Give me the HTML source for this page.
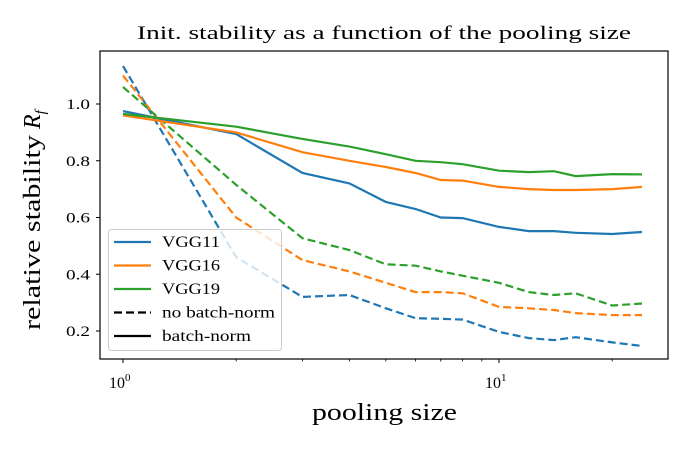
<!DOCTYPE html>
<html><head><meta charset="utf-8"><style>
body{margin:0;background:#fff;}
svg text{font-family:"Liberation Serif",serif;fill:#000;}
</style></head><body>
<svg id="chart" width="690" height="450" xmlns="http://www.w3.org/2000/svg"></svg>
<script>
const poolSizes=[1,2,3,4,5,6,7,8,10,12,14,16,20,24];
const vgg11BN=[0.975,0.894,0.757,0.72,0.655,0.63,0.60,0.598,0.567,0.552,0.552,0.546,0.542,0.549];
const vgg16BN=[0.96,0.90,0.83,0.80,0.778,0.757,0.732,0.73,0.708,0.70,0.697,0.697,0.70,0.708];
const vgg19BN=[0.965,0.92,0.877,0.85,0.823,0.80,0.795,0.788,0.765,0.76,0.763,0.746,0.753,0.752];
const vgg11NoBN=[1.134,0.46,0.32,0.327,0.28,0.245,0.243,0.24,0.197,0.175,0.168,0.178,0.16,0.147];
const vgg16NoBN=[1.10,0.60,0.45,0.41,0.37,0.337,0.337,0.333,0.285,0.28,0.274,0.263,0.256,0.256];
const vgg19NoBN=[1.06,0.715,0.527,0.485,0.435,0.43,0.41,0.395,0.37,0.337,0.327,0.333,0.29,0.297];
const yTicks=[0.2,0.4,0.6,0.8,1.0];
const yTickLabels=["0.2","0.4","0.6","0.8","1.0"];

const NS="http://www.w3.org/2000/svg";
const svg=document.getElementById('chart');
const L=100,R=668,T=51,B=359;
function xs(v){return 123+376*Math.log10(v);}
function ys(v){return 104+(1-v)*283.75;}
function mk(tag,attrs,parent){const e=document.createElementNS(NS,tag);for(const k in attrs)e.setAttribute(k,attrs[k]);(parent||svg).appendChild(e);return e;}

const seriesList=[
 [vgg11NoBN,'#1f77b4',true,'vgg11-no-batchnorm-line'],
 [vgg16NoBN,'#ff7f0e',true,'vgg16-no-batchnorm-line'],
 [vgg19NoBN,'#2ca02c',true,'vgg19-no-batchnorm-line'],
 [vgg11BN,'#1f77b4',false,'vgg11-batchnorm-line'],
 [vgg16BN,'#ff7f0e',false,'vgg16-batchnorm-line'],
 [vgg19BN,'#2ca02c',false,'vgg19-batchnorm-line']];
for(const [vals,col,dash,name] of seriesList){
  const pts=vals.map((v,i)=>xs(poolSizes[i]).toFixed(1)+','+ys(v).toFixed(1)).join(' ');
  const p=mk('polyline',{points:pts,fill:'none',stroke:col,'stroke-width':2.2});
  if(dash)p.setAttribute('stroke-dasharray','8,4');
  
  
}
const fr=mk('rect',{x:L,y:T,width:R-L,height:B-T,fill:'none',stroke:'#000','stroke-width':1.2});


yTicks.forEach((v,i)=>{
  const y=ys(v);
  mk('line',{x1:L-4,x2:L,y1:y,y2:y,stroke:'#000','stroke-width':1});
  const t=mk('text',{x:L-10,y:y+5,'text-anchor':'end','font-size':15,textLength:24,lengthAdjust:'spacingAndGlyphs'});
  t.textContent=yTickLabels[i];
  
  
});
[1,10].forEach(d=>{
  const x=xs(d);
  mk('line',{x1:x,x2:x,y1:B,y2:B+4,stroke:'#000','stroke-width':1});
});
for(let d of [1,10]){for(let m=2;m<=9;m++){const v=d*m;const x=xs(v);if(x<R)mk('line',{x1:x,x2:x,y1:B,y2:B+2.5,stroke:'#000','stroke-width':0.8});}}
const xl1=mk('text',{x:xs(1)-14,y:B+29,'font-size':16});xl1.innerHTML='10<tspan dy="-7" font-size="11">0</tspan>';


const xl2=mk('text',{x:xs(10)-14,y:B+29,'font-size':16});xl2.innerHTML='10<tspan dy="-7" font-size="11">1</tspan>';


const ti=mk('text',{x:137,y:39,'font-size':19,textLength:494,lengthAdjust:'spacingAndGlyphs'});ti.textContent='Init. stability as a function of the pooling size';


const xt=mk('text',{x:312,y:420,'font-size':24,textLength:145,lengthAdjust:'spacingAndGlyphs'});xt.textContent='pooling size';


const yt=mk('text',{x:0,y:0,'font-size':24,transform:'translate(40,330) rotate(-90)'});
yt.innerHTML='<tspan textLength="195" lengthAdjust="spacingAndGlyphs">relative stability</tspan> <tspan font-style="italic">R</tspan><tspan font-style="italic" font-size="15" dy="5">f</tspan>';


const lg=mk('g',{});


mk('rect',{x:108.5,y:229.5,width:173,height:121,rx:3,fill:'#fff','fill-opacity':0.8,stroke:'#ccc','stroke-width':1},lg);
const entries=[['VGG11','#1f77b4',false,58],['VGG16','#ff7f0e',false,58],['VGG19','#2ca02c',false,58],['no batch-norm','#000',true,113],['batch-norm','#000',false,89]];
entries.forEach((e,i)=>{
  const y=242+i*23.5;
  const g=mk('g',{},lg);
  
  
  const l=mk('line',{x1:114,x2:151,y1:y,y2:y,stroke:e[1],'stroke-width':2.2},g);
  if(e[2])l.setAttribute('stroke-dasharray','8,4');
  const t=mk('text',{x:162,y:y+5,'font-size':16,textLength:e[3],lengthAdjust:'spacingAndGlyphs'},g);t.textContent=e[0];
});
</script>
</body></html>
